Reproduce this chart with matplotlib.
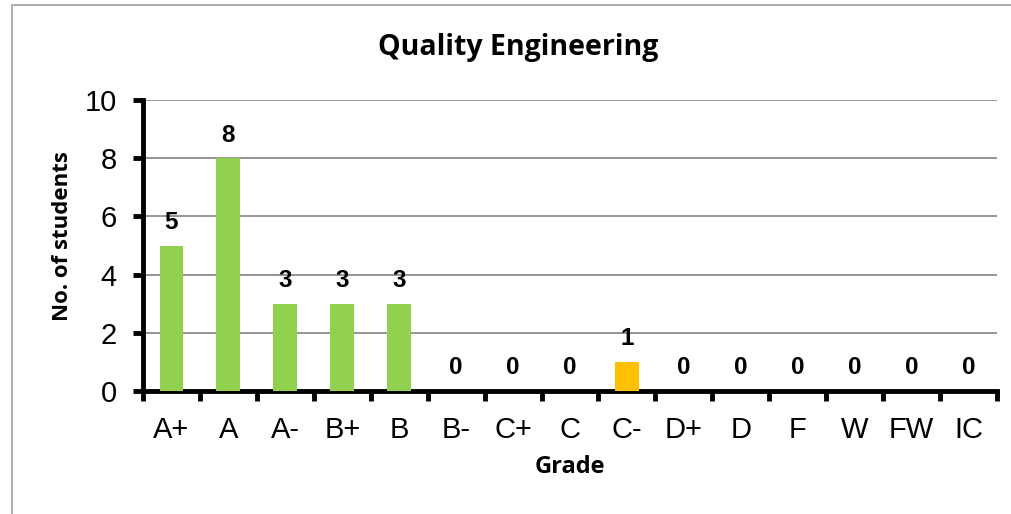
import matplotlib
matplotlib.use("Agg")
import matplotlib.pyplot as plt
import numpy as np
from matplotlib.patches import Rectangle

grades = ["A+", "A", "A-", "B+", "B", "B-", "C+", "C", "C-", "D+", "D", "F", "W", "FW", "IC"]
counts = [5, 8, 3, 3, 3, 0, 0, 0, 1, 0, 0, 0, 0, 0, 0]
colors = ["#92D050"] * 8 + ["#FFC000"] + ["#92D050"] * 6

fig = plt.figure(figsize=(10.11, 5.14), dpi=100)
ax = fig.add_axes([143 / 1011, 1 - 391 / 514, (997 - 143) / 1011, (391 - 100) / 514])

x = np.arange(len(grades))
ax.bar(x, counts, width=0.42, color=colors, zorder=3)
for xi, v in zip(x, counts):
    ax.text(xi, v + 0.4, str(v), ha="center", va="bottom", fontsize=17.5,
            fontweight="bold", family="Liberation Sans", zorder=4)

ax.set_xlim(-0.5, len(grades) - 0.5)
ax.set_ylim(0, 10)
ax.set_yticks(np.arange(0, 11, 2))
ax.yaxis.grid(True, color="#8c8c8c", linewidth=1.3, zorder=0)
ax.set_axisbelow(True)

ax.set_xticks(x)
ax.set_xticklabels(grades, fontsize=21, family="Liberation Sans")
ax.tick_params(axis="x", which="major", length=0, pad=18)
ax.set_xticks(np.arange(-0.5, len(grades), 1), minor=True)
ax.tick_params(axis="x", which="minor", length=7, width=3.5, direction="out", color="black")
ax.tick_params(axis="y", length=7, width=3.5, direction="out", labelsize=21, pad=12)
for lab in ax.get_yticklabels():
    lab.set_family("Liberation Sans")

for s in ["top", "right"]:
    ax.spines[s].set_visible(False)
ax.spines["left"].set_linewidth(3.5)
ax.spines["bottom"].set_linewidth(3.5)

ax.set_xlabel("Grade", fontsize=17, fontweight="bold", family="Open Sans", labelpad=8)
ax.set_ylabel("No. of students", fontsize=16, fontweight="bold", family="Open Sans")
ax.yaxis.set_label_coords(62.5 / 1011, 1 - 236 / 514, transform=fig.transFigure)
ax.yaxis.label.set_va("center")
fig.text(518 / 1011, 1 - 47 / 514, "Quality Engineering", ha="center", va="center",
         fontsize=20.5, fontweight="bold", family="Open Sans")

fig.patches.append(Rectangle((12 / 1011, -0.01), (1011 - 12) / 1011 + 0.01, 1 - 5 / 514 + 0.01,
                             transform=fig.transFigure, fill=False, edgecolor="#a0a0a0",
                             linewidth=1.2))

fig.savefig("out.png", dpi=100)
